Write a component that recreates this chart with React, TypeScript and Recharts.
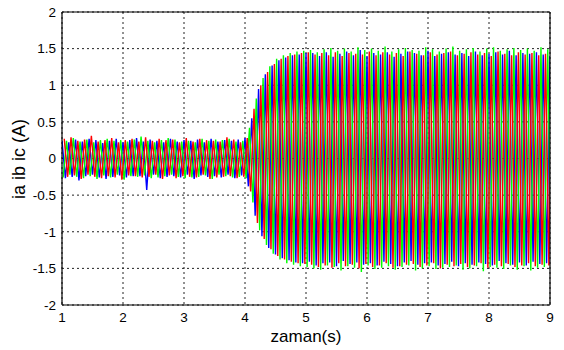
import React from 'react';
import { LineChart, Line, XAxis, YAxis, CartesianGrid, ReferenceLine } from 'recharts';

// Half-cycle peak values (alternating signs)
const iaPeaks: number[] = [
  0.24,-0.27,0.22,-0.25,0.26,-0.3,0.23,-0.24,0.27,-0.22,
  0.25,-0.26,0.21,-0.28,0.24,-0.25,0.27,-0.23,0.22,-0.26,
  0.25,-0.24,0.28,-0.24,0.23,-0.43,0.26,-0.22,0.24,-0.27,
  0.22,-0.25,0.27,-0.24,0.23,-0.26,0.25,-0.22,0.24,-0.28,
  0.26,-0.23,0.22,-0.25,0.27,-0.24,0.23,-0.26,0.25,-0.22,
  0.24,-0.27,0.26,-0.23,0.28,
  -0.38,0.55,-0.78,0.95,-1.06,1.15,-1.22,1.27,-1.31,1.34,-1.36,1.38,-1.39,1.41,-1.42,1.42,-1.43,1.44,
  -1.41,1.44,-1.46,1.40,-1.43,1.45,-1.42,1.39,-1.47,1.43,
  -1.40,1.46,-1.44,1.41,-1.42,1.48,-1.45,1.40,-1.43,1.44,
  -1.46,1.42,-1.41,1.45,-1.44,1.39,-1.47,1.43,-1.42,1.46,
  -1.40,1.44,-1.45,1.41,-1.43,1.47,-1.42,1.40,-1.46,1.43,
  -1.44,1.45,-1.41,1.42,-1.47,1.44,-1.43,1.40,-1.45,1.46,
  -1.42,1.41,-1.44,1.43,-1.46,1.45,-1.40,1.42,-1.43,1.47,
  -1.45,1.41,-1.42,1.44,-1.46,1.43,-1.41,1.45,-1.44,1.42,
  -1.43,1.40,
];

const ibPeaks: number[] = [
  -0.26,0.24,-0.22,0.28,-0.25,0.23,-0.27,0.26,-0.24,0.22,
  -0.28,0.25,-0.23,0.27,-0.26,0.24,-0.22,0.25,-0.29,0.23,
  -0.24,0.26,-0.25,0.3,-0.23,0.24,-0.27,0.22,-0.26,0.25,
  -0.24,0.28,-0.22,0.26,-0.25,0.23,-0.27,0.24,-0.26,0.22,
  -0.25,0.27,-0.23,0.24,-0.28,0.26,-0.22,0.25,-0.24,0.27,
  -0.26,0.23,-0.25,0.24,-0.27,
  0.42,-0.6,0.82,-0.98,1.1,-1.18,1.26,-1.3,1.36,-1.38,1.41,-1.43,1.44,-1.45,1.46,-1.47,1.47,-1.48,
  1.48,-1.5,1.45,-1.52,1.49,-1.46,1.51,-1.48,1.47,-1.53,
  1.50,-1.47,1.46,-1.49,1.52,-1.55,1.48,-1.46,1.50,-1.51,
  1.47,-1.49,1.53,-1.47,1.46,-1.52,1.49,-1.48,1.51,-1.46,
  1.48,-1.53,1.47,-1.50,1.52,-1.47,1.49,-1.51,1.46,-1.49,
  1.50,-1.48,1.53,-1.46,1.47,-1.52,1.49,-1.50,1.51,-1.47,
  1.46,-1.54,1.50,-1.48,1.52,-1.49,1.47,-1.51,1.49,-1.46,
  1.51,-1.52,1.48,-1.47,1.50,-1.53,1.47,-1.49,1.52,-1.48,
  1.49,-1.50,
];

const icPeaks: number[] = [
  0.27,-0.25,0.29,-0.23,0.24,-0.28,0.26,-0.22,0.31,-0.25,
  0.23,-0.27,0.25,-0.24,0.28,-0.26,0.22,-0.29,0.25,-0.23,
  0.27,-0.24,0.23,-0.26,0.29,-0.25,0.24,-0.22,0.27,-0.28,
  0.25,-0.23,0.26,-0.27,0.22,-0.24,0.28,-0.25,0.23,-0.26,
  0.27,-0.22,0.25,-0.28,0.24,-0.26,0.23,-0.25,0.29,-0.24,
  0.26,-0.27,0.22,-0.25,0.28,
  -0.45,0.68,-0.88,1.0,-1.1,1.18,-1.24,1.29,-1.33,1.36,-1.38,1.4,-1.41,1.42,-1.43,1.44,-1.44,1.45,
  -1.45,1.42,-1.48,1.44,-1.46,1.41,-1.49,1.45,-1.43,1.40,
  -1.47,1.44,-1.45,1.43,-1.50,1.42,-1.44,1.46,-1.48,1.41,
  -1.46,1.45,-1.43,1.42,-1.49,1.44,-1.47,1.40,-1.45,1.46,
  -1.44,1.43,-1.48,1.41,-1.46,1.45,-1.43,1.42,-1.50,1.44,
  -1.45,1.46,-1.47,1.41,-1.44,1.43,-1.48,1.45,-1.46,1.42,
  -1.43,1.44,-1.49,1.40,-1.45,1.46,-1.47,1.43,-1.44,1.41,
  -1.48,1.45,-1.46,1.42,-1.43,1.44,-1.47,1.41,-1.45,1.43,
  -1.46,1.42,
];

const xTicks = [1, 2, 3, 4, 5, 6, 7, 8, 9];
const yTicks = [-2, -1.5, -1, -0.5, 0, 0.5, 1, 1.5, 2];

const T_START = 1;
const HALF_PERIOD = 8 / 144; // time between successive peaks
const toSeries = (peaks: number[], phaseShift: number) =>
  peaks.map((v, k) => ({ t: T_START + (k + phaseShift) * HALF_PERIOD, v }));

const iaData = toSeries(iaPeaks, 0);
const ibData = toSeries(ibPeaks, 1 / 3);
const icData = toSeries(icPeaks, 2 / 3);

const FONT = 'Arial, "Liberation Sans", Helvetica, sans-serif';

export default function App() {
  return (
    <div style={{ position: 'absolute', left: 0, top: 0, width: 564, height: 350, background: '#fff' }}>
      <LineChart width={564} height={350} margin={{ top: 12, right: 14, bottom: 0, left: 0 }}>
        <CartesianGrid stroke="#222" strokeDasharray="2 3" strokeWidth={1} />
        <XAxis
          type="number"
          dataKey="t"
          domain={[1, 9]}
          ticks={xTicks}
          allowDataOverflow
          height={45}
          tickSize={0}
          tickMargin={7}
          tick={{ fill: '#000', fontSize: 13.5, fontFamily: FONT }}
          axisLine={{ stroke: '#000', strokeWidth: 1.2 }}
          tickLine={false}
          label={{ value: 'zaman(s)', position: 'insideBottom', offset: 8, fill: '#000', fontSize: 17, fontFamily: FONT }}
        />
        <YAxis
          type="number"
          domain={[-2, 2]}
          ticks={yTicks}
          allowDataOverflow
          width={62}
          tickSize={0}
          tickMargin={6}
          tick={{ fill: '#000', fontSize: 13.5, fontFamily: FONT }}
          axisLine={{ stroke: '#000', strokeWidth: 1.2 }}
          tickLine={false}
          label={{
            content: () => (
              <text
                x={20}
                y={159}
                transform="rotate(-90 20 159)"
                textAnchor="middle"
                dominantBaseline="middle"
                fill="#000"
                fontSize={18}
                fontFamily={FONT}
              >
                ia ib ic (A)
              </text>
            ),
          }}
        />
        <Line data={iaData} dataKey="v" type="linear" stroke="#0000FF" strokeWidth={1.4} dot={false} isAnimationActive={false} />
        <Line data={ibData} dataKey="v" type="linear" stroke="#00FF00" strokeWidth={1.4} dot={false} isAnimationActive={false} />
        <Line data={icData} dataKey="v" type="linear" stroke="#FF0000" strokeWidth={1.4} dot={false} isAnimationActive={false} />
        <ReferenceLine y={2} stroke="#000" strokeWidth={1.2} />
        <ReferenceLine x={9} stroke="#000" strokeWidth={1.2} />
      </LineChart>
    </div>
  );
}
